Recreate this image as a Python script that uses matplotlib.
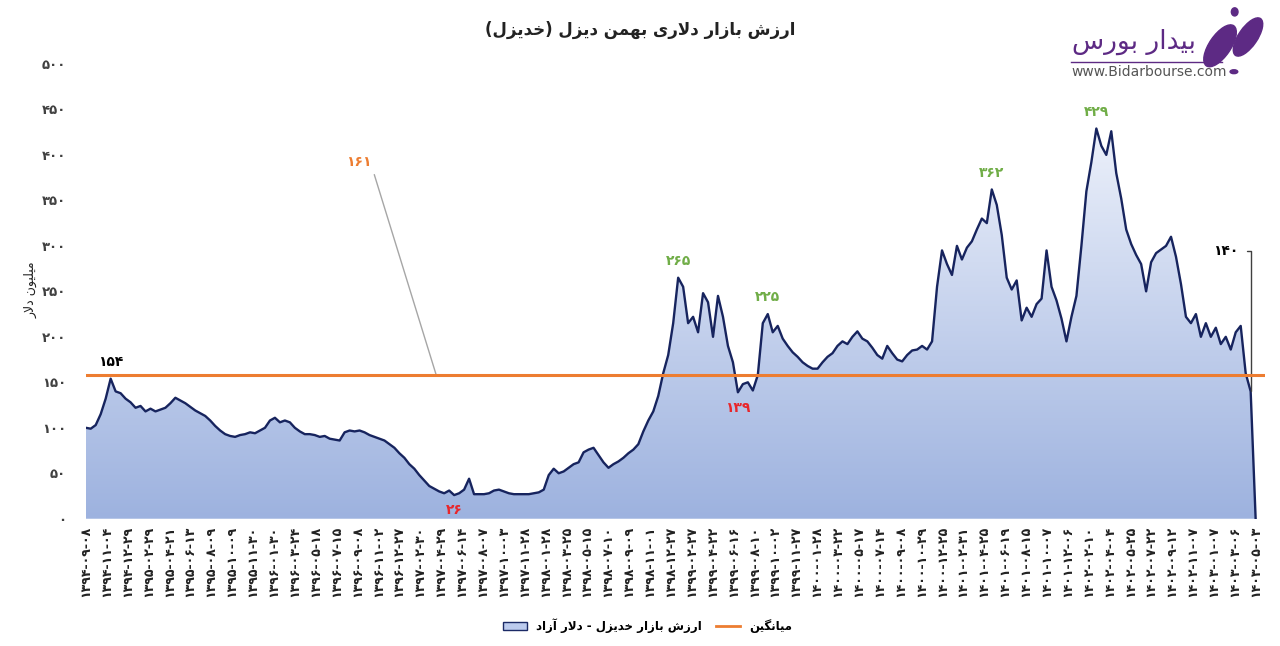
import numpy as np
import matplotlib.pyplot as plt
from matplotlib.colors import LinearSegmentedColormap
from matplotlib.patches import Patch, Ellipse, Circle
from matplotlib.lines import Line2D

plt.rcParams['font.family'] = ['DejaVu Sans']

# Persian letters -> presentation forms (isolated, final, initial, medial)
FORMS = {
    'ا': ('\uFE8D', '\uFE8E', None, None),
    'آ': ('\uFE81', '\uFE82', None, None),
    'ب': ('\uFE8F', '\uFE90', '\uFE91', '\uFE92'),
    'خ': ('\uFEA5', '\uFEA6', '\uFEA7', '\uFEA8'),
    'د': ('\uFEA9', '\uFEAA', None, None),
    'ر': ('\uFEAD', '\uFEAE', None, None),
    'ز': ('\uFEAF', '\uFEB0', None, None),
    'س': ('\uFEB1', '\uFEB2', '\uFEB3', '\uFEB4'),
    'ش': ('\uFEB5', '\uFEB6', '\uFEB7', '\uFEB8'),
    'ل': ('\uFEDD', '\uFEDE', '\uFEDF', '\uFEE0'),
    'م': ('\uFEE1', '\uFEE2', '\uFEE3', '\uFEE4'),
    'ن': ('\uFEE5', '\uFEE6', '\uFEE7', '\uFEE8'),
    'ه': ('\uFEE9', '\uFEEA', '\uFEEB', '\uFEEC'),
    'و': ('\uFEED', '\uFEEE', None, None),
    '\u06CC': ('\uFBFC', '\uFBFD', '\uFBFE', '\uFBFF'),
    'گ': ('\uFB92', '\uFB93', '\uFB94', '\uFB95'),
}


def shape(text):
    text = text.replace('\u064A', '\u06CC')
    out = []
    i, n = 0, len(text)

    def joins_left(c):
        return c in FORMS and FORMS[c][2] is not None

    while i < n:
        c = text[i]
        if c not in FORMS:
            out.append(c)
            i += 1
            continue
        jp = i > 0 and joins_left(text[i - 1])
        if c == 'ل' and i + 1 < n and text[i + 1] in 'اآ':
            lig = ('\uFEFB', '\uFEFC') if text[i + 1] == 'ا' else ('\uFEF5', '\uFEF6')
            out.append(lig[1] if jp else lig[0])
            i += 2
            continue
        jn = joins_left(c) and i + 1 < n and text[i + 1] in FORMS
        iso, fin, ini, med = FORMS[c]
        out.append(med if jp and jn else fin if jp else ini if jn else iso)
        i += 1
    mirror = {'(': ')', ')': '('}
    return ''.join(mirror.get(ch, ch) for ch in reversed(out))


def fa(s):
    return str(s).translate(str.maketrans('0123456789', '۰۱۲۳۴۵۶۷۸۹'))


# data (million USD)
market_value = [
    100, 99, 103, 115, 132, 154, 140, 138, 132, 128,
    122, 124, 118, 121, 118, 120, 122, 127, 133, 130,
    127, 123, 119, 116, 113, 108, 102, 97, 93, 91,
    90, 92, 93, 95, 94, 97, 100, 108, 111, 106,
    108, 106, 100, 96, 93, 93, 92, 90, 91, 88,
    87, 86, 95, 97, 96, 97, 95, 92, 90, 88,
    86, 82, 78, 72, 67, 60, 55, 48, 42, 36,
    33, 30, 28, 31, 26, 28, 32, 44, 27, 27,
    27, 28, 31, 32, 30, 28, 27, 27, 27, 27,
    28, 29, 32, 48, 55, 50, 52, 56, 60, 62,
    73, 76, 78, 70, 62, 56, 60, 63, 67, 72,
    76, 82, 96, 108, 118, 135, 160, 180, 215, 265,
    255, 215, 222, 205, 248, 238, 200, 245, 222, 190,
    172, 139, 148, 150, 141, 158, 215, 225, 205, 212,
    198, 190, 183, 178, 172, 168, 165, 165, 172, 178,
    182, 190, 195, 192, 200, 206, 198, 195, 188, 180,
    176, 190, 182, 175, 173, 180, 185, 186, 190, 186,
    195, 255, 295, 280, 268, 300, 285, 298, 305, 318,
    330, 325, 362, 345, 312, 265, 252, 262, 218, 232,
    222, 236, 242, 295, 255, 240, 220, 195, 222, 245,
    300, 360, 392, 429, 410, 400, 426, 380, 352, 318,
    302, 290, 280, 250, 282, 292, 296, 300, 310, 288,
    258, 222, 215, 225, 200, 215, 200, 210, 192, 200,
    186, 205, 212, 160, 140, 0,
]
average_value = 158
average_label = 161
last_label = 140

date_labels = [
    '1394-09-08', '1394-11-04', '1394-12-29', '1395-02-29', '1395-04-21', '1395-06-13',
    '1395-08-09', '1395-10-09', '1395-11-30', '1396-01-30', '1396-03-24', '1396-05-18',
    '1396-07-15', '1396-09-08', '1396-11-02', '1396-12-27', '1397-02-30', '1397-04-29',
    '1397-06-14', '1397-08-07', '1397-10-03', '1397-11-28', '1398-01-28', '1398-03-25',
    '1398-05-15', '1398-07-10', '1398-09-09', '1398-11-01', '1398-12-27', '1399-02-27',
    '1399-04-22', '1399-06-16', '1399-08-10', '1399-10-02', '1399-11-27', '1400-01-28',
    '1400-03-22', '1400-05-17', '1400-07-14', '1400-09-08', '1400-10-29', '1400-12-25',
    '1401-02-31', '1401-04-25', '1401-06-19', '1401-08-15', '1401-10-07', '1401-12-06',
    '1402-02-10', '1402-04-04', '1402-05-25', '1402-07-22', '1402-09-12', '1402-11-07',
    '1403-01-07', '1403-03-06', '1403-05-03',
]

# peaks / troughs that get a label: (search range, colour, above?)
marks = [
    ((0, 20), '#000000', True),
    ((60, 100), '#e8262b', False),
    ((110, 125), '#70ad47', True),
    ((125, 140), '#e8262b', False),
    ((134, 140), '#70ad47', True),
    ((180, 200), '#70ad47', True),
    ((200, 220), '#70ad47', True),
]

y = np.array(market_value, dtype=float)
x = np.arange(len(y))
N = len(y)

fig = plt.figure(figsize=(12.8, 6.46), dpi=100)
ax = fig.add_axes([0.067, 0.197, 0.921, 0.704])

# gradient area
cmap = LinearSegmentedColormap.from_list('g', ['#9db2df', '#eef2fb'])
grad = np.linspace(0, 1, 256).reshape(-1, 1)
im = ax.imshow(grad, extent=[0, N - 1, 0, 440], origin='lower', aspect='auto',
               cmap=cmap, zorder=1)
poly = ax.fill_between(x, y, 0, color='none', lw=0)
im.set_clip_path(poly.get_paths()[0], transform=ax.transData)
ax.plot(x, y, color='#17245e', lw=1.7, zorder=3)
ax.axhline(average_value, color='#ed7d31', lw=2.2, zorder=4)

ax.set_xlim(0, (N - 1) * 1179 / 1170)
ax.set_ylim(0, 500)
for s in ax.spines.values():
    s.set_visible(False)

ax.set_yticks(range(0, 501, 50))
ax.set_yticklabels([fa(v) for v in range(0, 501, 50)], fontsize=9.5,
                   fontweight='bold', color='#404040')
ax.set_xticks(np.linspace(0, N - 1, len(date_labels)))
ax.set_xticklabels([fa(d) for d in date_labels], rotation=90, fontsize=9,
                   fontweight='bold', color='#222222')
ax.tick_params(axis='y', length=0, pad=14)
ax.tick_params(axis='x', length=0, pad=5)

for (a, b), col, above in marks:
    seg = y[a:b]
    i = a + (int(np.argmax(seg)) if above else int(np.argmin(seg)))
    ax.annotate(fa(int(y[i])), xy=(i, y[i]), xytext=(0, 12 if above else -11),
                textcoords='offset points', ha='center', va='center',
                fontsize=10, fontweight='bold', color=col, zorder=5)

ax.annotate(fa(average_label), xy=(70.4, average_value), xytext=(54.8, 392),
            ha='center', va='center', fontsize=10, fontweight='bold', color='#ed7d31',
            arrowprops=dict(arrowstyle='-', color='#a6a6a6', lw=1, relpos=(1, 0.3),
                            shrinkA=2, shrinkB=0))
ax.annotate(fa(last_label), xy=(N - 2, last_label), xytext=(229, 294),
            ha='center', va='center', fontsize=10, fontweight='bold', color='#000000',
            arrowprops=dict(arrowstyle='-', color='#404040', lw=1, relpos=(1, 0.5),
                            connectionstyle='angle,angleA=0,angleB=90,rad=0',
                            shrinkA=4, shrinkB=0))

fig.text(0.5, 0.953, shape('ارزش بازار دلاری بهمن دیزل (خدیزل)'), ha='center',
         va='center', fontsize=12, fontweight='bold', color='#222222')
fig.text(0.024, 0.551, shape('میلیون دلار'), rotation=90, ha='center', va='center',
         fontsize=9, color='#222222')

handles = [Patch(facecolor='#bccbee', edgecolor='#1b2a66', lw=1),
           Line2D([], [], color='#ed7d31', lw=2)]
fig.legend(handles, [shape('ارزش بازار خدیزل - دلار آزاد'), shape('میانگین')],
           loc='center', bbox_to_anchor=(0.506, 0.031), ncol=2, frameon=False,
           prop={'size': 8.5, 'weight': 'bold'}, handlelength=2.0, columnspacing=1.2)

# logo
purple = '#5d2a84'
fig.text(0.934, 0.935, shape('بیدار بورس'), ha='right', va='center', fontsize=19,
         color=purple)
fig.text(0.837, 0.889, 'www.Bidarbourse.com', ha='left', va='center', fontsize=10,
         color='#555555')
fig.add_artist(Line2D([0.837, 0.955], [0.904, 0.904], color=purple, lw=1,
                      transform=fig.transFigure))
fig.add_artist(Circle((0.964, 0.889), 0.003, color=purple, transform=fig.transFigure))
lax = fig.add_axes([0.936, 0.885, 0.052, 0.105])
lax.set_xlim(0, 1)
lax.set_ylim(0, 1)
lax.axis('off')
lax.add_patch(Ellipse((0.33, 0.42), 0.32, 0.72, angle=-35, color=purple))
lax.add_patch(Ellipse((0.75, 0.55), 0.28, 0.66, angle=-35, color=purple))
lax.add_patch(Ellipse((0.55, 0.92), 0.1, 0.12, color=purple))

fig.savefig('out.png', dpi=100, facecolor='white')
